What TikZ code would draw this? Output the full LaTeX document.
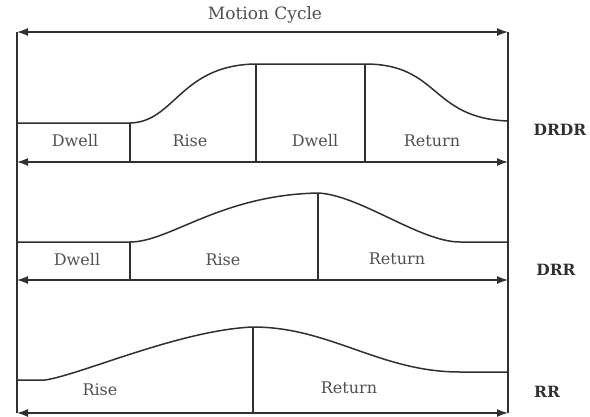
\documentclass[tikz,border=0pt]{standalone}
\usepackage{fontspec}
\setmainfont{DejaVu Serif}
\usetikzlibrary{arrows.meta}
\definecolor{ink}{HTML}{303030}
\definecolor{txt}{HTML}{505050}
\begin{document}
\begin{tikzpicture}[x=1pt,y=-1pt,
  ln/.style={draw=ink,line width=1.5pt},
  dbl/.style={ln,{Latex[length=11pt,width=8pt]}-{Latex[length=11pt,width=8pt]}},
  lbl/.style={text=txt,font=\fontsize{16}{18}\selectfont,inner sep=0pt},
  tag/.style={text=ink,font=\fontsize{15.5}{17}\selectfont\bfseries,inner sep=0pt}]
\useasboundingbox (0,0) rectangle (590,416);
% frame
\coordinate (TL) at (17,32);
\coordinate (TR) at (508,32);
\coordinate (BL) at (17,413);
\coordinate (BR) at (508,413);
\draw[ln] (TL) -- (BL);
\draw[ln] (TR) -- (BR);
\draw[dbl] (TL) -- (TR);
\node[lbl,font=\fontsize{17}{19}\selectfont] (mc) at (265,15) {Motion Cycle};
% DRDR
\coordinate (a0) at (17,123);
\coordinate (a1) at (130,123);
\coordinate (a2) at (256,64);
\coordinate (a3) at (365,64);
\coordinate (a4) at (508,121);
\coordinate (aL) at (17,162);
\coordinate (aR) at (508,162);
\draw[ln] (a0) -- (a1) .. controls (175,122) and (180,65) .. (a2) -- (a3)
  .. controls (440,64) and (430,118) .. (a4);
\draw[ln] (a1) -- (130,162);
\draw[ln] (a2) -- (256,162);
\draw[ln] (a3) -- (365,162);
\draw[dbl] (aL) -- (aR);
\node[lbl] (d1) at (75,141) {Dwell};
\node[lbl] (r1) at (190,141) {Rise};
\node[lbl] (d2) at (315,141) {Dwell};
\node[lbl] (t1) at (432,141) {Return};
\node[tag] (DRDR) at (560,130) {DRDR};
% DRR
\coordinate (b0) at (17,242);
\coordinate (b1) at (130,242);
\coordinate (b2) at (318,193);
\coordinate (b3) at (460,242);
\coordinate (b4) at (508,242);
\coordinate (bL) at (17,280);
\coordinate (bR) at (508,280);
\draw[ln] (b0) -- (b1) .. controls (170,242) and (220,195) .. (b2)
  .. controls (360,195) and (420,242) .. (b3) -- (b4);
\draw[ln] (b1) -- (130,280);
\draw[ln] (b2) -- (318,280);
\draw[dbl] (bL) -- (bR);
\node[lbl] (d3) at (77,260) {Dwell};
\node[lbl] (r2) at (223,260) {Rise};
\node[lbl] (t2) at (397,259) {Return};
\node[tag] (DRR) at (556,270) {DRR};
% RR
\coordinate (c0) at (17,380);
\coordinate (c1) at (45,380);
\coordinate (c2) at (253,327);
\coordinate (c3) at (460,372);
\coordinate (c4) at (508,372);
\draw[ln] (c0) -- (c1) .. controls (80,375) and (180,330) .. (c2)
  .. controls (330,327) and (380,372) .. (c3) -- (c4);
\draw[ln] (c2) -- (253,413);
\draw[dbl] (BL) -- (BR);
\node[lbl] (r3) at (100,390) {Rise};
\node[lbl] (t3) at (349,388) {Return};
\node[tag] (RR) at (547,392) {RR};
\end{tikzpicture}
\end{document}
